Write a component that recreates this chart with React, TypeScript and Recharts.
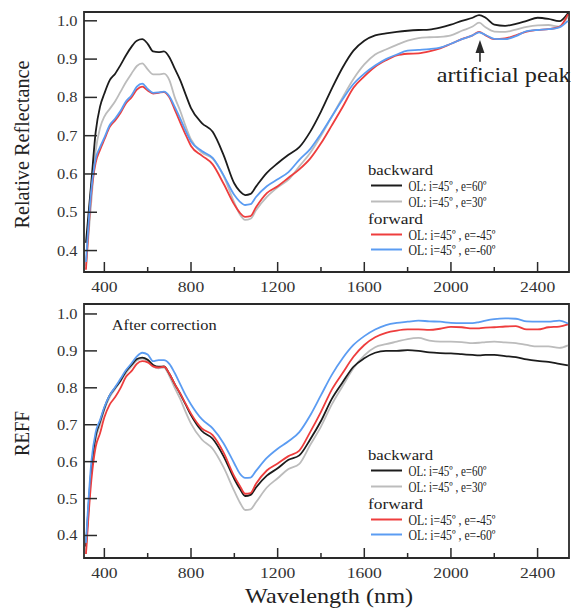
import { Legend, Line, LineChart, ReferenceArea, ReferenceDot, ReferenceLine, XAxis, YAxis } from "recharts";

const FONT = '"Liberation Serif", "Times New Roman", serif';
const INK = "#2a2a2a";

// wavelength (nm)
const WAVE = [
  315, 340, 360, 380, 400, 425, 450, 475, 500, 525, 550, 575, 600, 625, 650, 675, 700, 725, 750, 775, 800,
  850, 900, 950, 1000, 1025, 1050, 1075, 1100, 1150, 1200, 1250, 1300, 1350, 1400, 1450, 1500, 1550, 1600,
  1650, 1700, 1750, 1800, 1850, 1900, 1950, 2000, 2050, 2100, 2130, 2160, 2200, 2250, 2300, 2350, 2400,
  2450, 2500, 2540,
];

// top panel: relative reflectance
const TOP_B60 = [
  0.42, 0.58, 0.71, 0.776, 0.81, 0.845, 0.862, 0.885, 0.91, 0.932, 0.948, 0.952, 0.94, 0.92, 0.918, 0.92, 0.905, 0.875, 0.845, 0.808, 0.772,
  0.733, 0.71, 0.65, 0.575, 0.555, 0.545, 0.548, 0.567, 0.603, 0.628, 0.65, 0.67, 0.71, 0.763, 0.823, 0.878, 0.922, 0.948,
  0.962, 0.967, 0.971, 0.974, 0.976, 0.977, 0.982, 0.99, 1.0, 1.008, 1.015, 1.008, 0.99, 0.987, 0.992, 1.0, 1.008,
  1.005, 0.999, 1.02,
];
const TOP_B30 = [
  0.36, 0.53, 0.66, 0.72, 0.75, 0.77, 0.79, 0.815, 0.84, 0.862, 0.882, 0.889, 0.873, 0.86, 0.86, 0.862, 0.845, 0.8, 0.765, 0.725, 0.69,
  0.656, 0.64, 0.595, 0.525, 0.495, 0.48, 0.483, 0.505, 0.54, 0.565, 0.585, 0.62, 0.655, 0.7, 0.75, 0.8, 0.848, 0.886,
  0.912, 0.925, 0.937, 0.948, 0.955, 0.957, 0.958, 0.962, 0.974, 0.985, 0.995, 0.983, 0.972, 0.971, 0.977, 0.984, 0.988,
  0.989, 0.985, 1.012,
];
const TOP_F45 = [
  0.35, 0.55, 0.63, 0.663, 0.69, 0.723, 0.74, 0.76, 0.785, 0.8, 0.82, 0.828, 0.818, 0.81, 0.812, 0.814, 0.8, 0.768, 0.735, 0.703, 0.673,
  0.648, 0.625, 0.575, 0.52, 0.499, 0.488, 0.49, 0.513, 0.55, 0.568, 0.59, 0.612, 0.64, 0.68, 0.727, 0.775, 0.825, 0.855,
  0.88, 0.897, 0.91, 0.914, 0.915, 0.92, 0.928, 0.94, 0.952, 0.962, 0.971, 0.962, 0.952, 0.954, 0.962, 0.972, 0.976,
  0.978, 0.984, 1.017,
];
const TOP_F60 = [
  0.37, 0.56, 0.64, 0.67, 0.695, 0.728, 0.745, 0.765, 0.79, 0.805, 0.828, 0.836, 0.822, 0.812, 0.813, 0.815, 0.803, 0.775, 0.745, 0.713, 0.685,
  0.66, 0.642, 0.597, 0.545, 0.528, 0.519, 0.521, 0.54, 0.568, 0.586, 0.605, 0.637, 0.665, 0.705, 0.75, 0.795, 0.835, 0.862,
  0.883, 0.9, 0.912, 0.922, 0.924, 0.926, 0.93, 0.94, 0.952, 0.962, 0.97, 0.963, 0.953, 0.952, 0.96, 0.973, 0.976,
  0.978, 0.983, 1.0,
];

// bottom panel: REFF after correction
const BOT_B60 = [
  0.37, 0.58, 0.67, 0.708, 0.745, 0.78, 0.8, 0.82, 0.845, 0.862, 0.878, 0.882, 0.876, 0.862, 0.857, 0.858, 0.838, 0.81, 0.784, 0.755, 0.726,
  0.683, 0.662, 0.615, 0.553, 0.527, 0.507, 0.51, 0.53, 0.562, 0.582, 0.605, 0.617, 0.66, 0.71, 0.77, 0.815, 0.857, 0.88,
  0.895, 0.9, 0.9, 0.902, 0.9, 0.896, 0.894, 0.893, 0.891, 0.889, 0.888, 0.889, 0.889, 0.886, 0.883, 0.877, 0.873,
  0.87, 0.865, 0.861,
];
const BOT_B30 = [
  0.35, 0.57, 0.66, 0.7, 0.74, 0.775, 0.797, 0.818, 0.84, 0.858, 0.874, 0.879, 0.872, 0.858, 0.853, 0.855, 0.832, 0.8, 0.77, 0.735, 0.703,
  0.66, 0.635, 0.585, 0.52, 0.49, 0.469, 0.471, 0.49, 0.53, 0.555, 0.58, 0.594, 0.645, 0.695, 0.755, 0.805, 0.853, 0.888,
  0.91, 0.918, 0.925, 0.932, 0.935, 0.928, 0.925, 0.925, 0.924, 0.921, 0.922, 0.924, 0.925, 0.923, 0.921, 0.916, 0.912,
  0.912, 0.908, 0.915,
];
const BOT_F45 = [
  0.35, 0.55, 0.64, 0.677, 0.72, 0.755, 0.775, 0.8, 0.83, 0.845, 0.865, 0.872, 0.869, 0.858, 0.855, 0.857, 0.838, 0.81, 0.785, 0.757, 0.73,
  0.69, 0.672, 0.625, 0.56, 0.535, 0.513, 0.515, 0.54, 0.576, 0.595, 0.615, 0.63, 0.68, 0.735, 0.795, 0.84, 0.884, 0.916,
  0.937, 0.949, 0.955, 0.958, 0.958, 0.957, 0.96, 0.965, 0.964, 0.961, 0.961, 0.963, 0.964, 0.966, 0.967, 0.958, 0.958,
  0.964, 0.966, 0.972,
];
const BOT_F60 = [
  0.38, 0.6, 0.68, 0.713, 0.748, 0.78, 0.802, 0.825, 0.848, 0.866, 0.885, 0.895, 0.89, 0.872, 0.875, 0.875, 0.865, 0.84, 0.81, 0.78, 0.755,
  0.715, 0.69, 0.65, 0.595, 0.568, 0.556, 0.557, 0.575, 0.61, 0.635, 0.655, 0.68, 0.725, 0.78, 0.835, 0.88, 0.916, 0.94,
  0.958, 0.97, 0.976, 0.979, 0.982, 0.98, 0.979, 0.976, 0.975, 0.975, 0.978, 0.982, 0.986, 0.988, 0.987, 0.98, 0.979,
  0.979, 0.982, 0.974,
];

const X_DOMAIN = [306, 2545];
const X_TICKS = [400, 600, 800, 1000, 1200, 1400, 1600, 1800, 2000, 2200, 2400];
const X_LABELED = [400, 800, 1200, 1600, 2000, 2400];
const Y_TICKS = [0.4, 0.5, 0.6, 0.7, 0.8, 0.9, 1.0];
const TOP_Y_DOMAIN = [0.344, 1.023];
const BOT_Y_DOMAIN = [0.339, 1.027];

const SERIES = [
  { key: "b30", name: "OL: i=45º , e=30º", color: "#bcbcbc", len: 78 },
  { key: "b60", name: "OL: i=45º , e=60º", color: "#1c1c1c", len: 78 },
  { key: "f45", name: "OL: i=45º , e=-45º", color: "#ee3d3d", len: 87 },
  { key: "f60", name: "OL: i=45º , e=-60º", color: "#5b9cf2", len: 87 },
];

const toRows = (b60: number[], b30: number[], f45: number[], f60: number[]) =>
  WAVE.map((w, i) => ({ w, b60: b60[i], b30: b30[i], f45: f45[i], f60: f60[i] }));

const TOP_DATA = toRows(TOP_B60, TOP_B30, TOP_F45, TOP_F60);
const BOT_DATA = toRows(BOT_B60, BOT_B30, BOT_F45, BOT_F60);

function XTick({ x, y, payload }: any) {
  const v = payload.value;
  const major = X_LABELED.includes(v);
  const s = String(v);
  return (
    <g>
      <line x1={x} x2={x} y1={y} y2={y - (major ? 10 : 5)} stroke={INK} strokeWidth={1.5} />
      {major && (
        <text x={x} y={y + 20} textAnchor="middle" fontFamily={FONT} fontSize={15} fill="#333"
          textLength={s.length * 8.8} lengthAdjust="spacingAndGlyphs">{s}</text>
      )}
    </g>
  );
}

function YTick({ x, y, payload }: any) {
  const s = Number(payload.value).toFixed(1);
  return (
    <g>
      <line x1={x} x2={x + 13} y1={y} y2={y} stroke={INK} strokeWidth={1.5} />
      <text x={x - 6.5} y={y + 5} textAnchor="end" fontFamily={FONT} fontSize={15} fill="#333"
        textLength={20.5} lengthAdjust="spacingAndGlyphs">{s}</text>
    </g>
  );
}

// legend: two groups, header + two line rows each
function LegendBox() {
  const row = (s: (typeof SERIES)[number], cy: number) => (
    <g key={s.key}>
      <line x1={11} x2={42} y1={cy} y2={cy} stroke={s.color} strokeWidth={2} />
      <text x={48.5} y={cy + 5} fontFamily={FONT} fontSize={14.5} fill="#222" textLength={s.len} lengthAdjust="spacingAndGlyphs">{s.name}</text>
    </g>
  );
  return (
    <svg width={215} height={100} style={{ display: "block", overflow: "visible" }}>
      <text x={8} y={15} fontFamily={FONT} fontSize={15} fill="#222" textLength={65} lengthAdjust="spacingAndGlyphs">backward</text>
      {row(SERIES[1], 25.5)}
      {row(SERIES[0], 41.5)}
      <text x={8} y={64} fontFamily={FONT} fontSize={15} fill="#222" textLength={55} lengthAdjust="spacingAndGlyphs">forward</text>
      {row(SERIES[2], 74.5)}
      {row(SERIES[3], 89.5)}
    </svg>
  );
}

function Panel({ data, height, top, yDomain, xAxisHeight, yTitle, yTitleLen, legendTop, xTitle, children }: any) {
  return (
    <LineChart width={571} height={height} data={data} margin={{ top, right: 2, left: 0, bottom: 0 }}>
      <XAxis
        dataKey="w" type="number" domain={X_DOMAIN} ticks={X_TICKS} interval={0} allowDataOverflow
        height={xAxisHeight} axisLine={false} tickLine={false} tickSize={0} tickMargin={0} tick={<XTick />}
        label={xTitle ? {
          value: xTitle,
          content: ({ viewBox }: any) => (
            <text x={viewBox.x + viewBox.width / 2 + 2.5} y={viewBox.y + 45} textAnchor="middle" fontFamily={FONT}
              fontSize={21} fill="#222" textLength={168} lengthAdjust="spacingAndGlyphs">{xTitle}</text>
          ),
        } : undefined}
      />
      <YAxis
        type="number" domain={yDomain} ticks={Y_TICKS} interval={0} allowDataOverflow width={84}
        axisLine={false} tickLine={false} tickSize={0} tickMargin={0} tick={<YTick />}
        label={{
          value: yTitle,
          content: ({ viewBox }: any) => {
            const cx = 22;
            const cy = viewBox.y + viewBox.height / 2 + 2.5;
            return (
              <text x={cx} y={cy} transform={`rotate(-90 ${cx} ${cy})`} textAnchor="middle" dominantBaseline="central"
                fontFamily={FONT} fontSize={20} fill="#222" textLength={yTitleLen} lengthAdjust="spacingAndGlyphs">{yTitle}</text>
            );
          },
        }}
      />
      <ReferenceArea x1={X_DOMAIN[0]} x2={X_DOMAIN[1]} y1={yDomain[0]} y2={yDomain[1]} fill="none" stroke={INK} strokeWidth={1.8} ifOverflow="visible" />
      {SERIES.map((s) => (
        <Line key={s.key} type="monotone" dataKey={s.key} name={s.name} stroke={s.color} strokeWidth={1.8} dot={false} isAnimationActive={false} />
      ))}
      {children}
      <Legend
        layout="horizontal" verticalAlign="middle" align="center"
        content={() => <LegendBox />}
        wrapperStyle={{ left: 360, top: legendTop, width: 215, height: 100 }}
      />
    </LineChart>
  );
}

export default function App() {
  return (
    <div style={{ position: "absolute", left: 0, top: 0, width: 571, height: 609, background: "#fff" }}>
      <div style={{ position: "absolute", left: 0, top: 0 }}>
        <Panel data={TOP_DATA} height={300} top={12} yDomain={TOP_Y_DOMAIN} xAxisHeight={28}
          yTitle="Relative Reflectance" yTitleLen={168} legendTop={160}>
          <ReferenceLine segment={[{ x: 2134, y: 0.893 }, { x: 2134, y: 0.925 }]} stroke={INK} strokeWidth={1.6} />
          <ReferenceDot x={2134} y={0.9496} r={0} ifOverflow="visible"
            shape={(p: any) => <path d={`M${p.cx},${p.cy} L${p.cx - 4.5},${p.cy + 13} L${p.cx + 4.5},${p.cy + 13} Z`} fill={INK} />} />
          <ReferenceDot x={2134} y={0.8407} r={0} ifOverflow="visible"
            shape={(p: any) => (
              <text x={p.cx - 43.3} y={p.cy} fontFamily={FONT} fontSize={21} fill="#222" textLength={134} lengthAdjust="spacingAndGlyphs">artificial peak</text>
            )} />
        </Panel>
      </div>
      <div style={{ position: "absolute", left: 0, top: 290 }}>
        <Panel data={BOT_DATA} height={319} top={14} yDomain={BOT_Y_DOMAIN} xAxisHeight={51}
          yTitle="REFF" yTitleLen={45} legendTop={155} xTitle="Wavelength (nm)">
          <ReferenceDot x={434} y={0.9566} r={0} ifOverflow="visible"
            shape={(p: any) => (
              <text x={p.cx} y={p.cy} fontFamily={FONT} fontSize={14} fill="#222" textLength={105} lengthAdjust="spacingAndGlyphs">After correction</text>
            )} />
        </Panel>
      </div>
    </div>
  );
}
